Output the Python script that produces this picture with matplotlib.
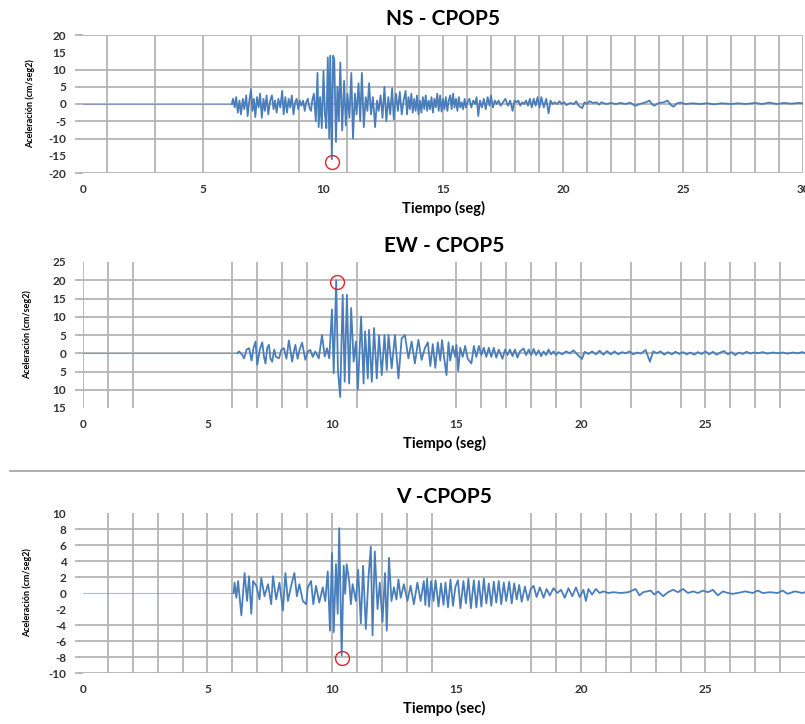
import matplotlib
matplotlib.use("Agg")
import matplotlib.pyplot as plt
from matplotlib.lines import Line2D

plt.rcParams["font.family"] = ["Lato", "DejaVu Sans"]

# ---- NS component (time s, acceleration cm/s2) ----
ns_t = [0, 6.2, 6.25, 6.32, 6.38, 6.45, 6.52, 6.58, 6.66, 6.72, 6.80, 6.86, 6.93, 7.00, 7.06, 7.12,
        7.18, 7.25, 7.32, 7.38, 7.45, 7.52, 7.58, 7.65, 7.72, 7.80, 7.87, 7.94, 8.00, 8.07, 8.14,
        8.22, 8.30, 8.36, 8.43, 8.50, 8.57, 8.63, 8.70, 8.77, 8.84, 8.90, 8.97, 9.03, 9.10, 9.17,
        9.24, 9.30, 9.37, 9.43, 9.50, 9.55, 9.62, 9.70, 9.77, 9.82, 9.88, 9.95, 10.02, 10.08,
        10.14, 10.20, 10.26, 10.30, 10.37, 10.42, 10.47, 10.54, 10.60, 10.66, 10.72, 10.80, 10.88,
        10.95, 11.02, 11.10, 11.18, 11.25, 11.33, 11.40, 11.48, 11.55, 11.62, 11.70, 11.78, 11.85,
        11.92, 12.00, 12.08, 12.17, 12.25, 12.32, 12.40, 12.48, 12.56, 12.64, 12.72, 12.80, 12.88,
        12.95, 13.04, 13.12, 13.20, 13.28, 13.36, 13.44, 13.50, 13.56, 13.62, 13.68, 13.74, 13.80,
        13.86, 13.92, 13.98, 14.04, 14.10, 14.16, 14.22, 14.28, 14.34, 14.40, 14.46, 14.52, 14.58,
        14.64, 14.70, 14.76, 14.82, 14.88, 14.94, 15.00, 15.06, 15.12, 15.18, 15.24, 15.30, 15.36,
        15.42, 15.48, 15.54, 15.60, 15.66, 15.72, 15.78, 15.84, 15.90, 15.96, 16.02, 16.10, 16.18,
        16.26, 16.34, 16.40, 16.47, 16.54, 16.62, 16.70, 16.78, 16.86, 16.94, 17.00, 17.08, 17.16,
        17.24, 17.32, 17.40, 17.50, 17.60, 17.70, 17.80, 17.90, 17.98, 18.06, 18.14, 18.22, 18.30,
        18.38, 18.46, 18.54, 18.62, 18.70, 18.78, 18.86, 18.94, 19.02, 19.10, 19.20, 19.30, 19.40,
        19.48, 19.56, 19.65, 19.75, 19.85, 19.95, 20.05, 20.15, 20.30, 20.45, 20.55, 20.65, 20.80,
        20.90, 21.00, 21.10, 21.25, 21.40, 21.50, 21.60, 21.80, 22.00, 22.20, 22.40, 22.60, 22.80,
        23.00, 23.20, 23.45, 23.60, 23.70, 23.80, 24.00, 24.20, 24.35, 24.50, 24.60, 24.75, 24.90,
        25.10, 25.40, 25.70, 26.00, 26.30, 26.60, 27.00, 27.30, 27.60, 28.00, 28.30, 28.60, 28.90,
        29.20, 29.50, 29.80, 30.00]
ns_a = [0, 0, 1.5, -1, 2, -2.5, 1, -3, 1.5, -1.5, 2.5, -3.5, 1, 4.3, -2, 1.5,
        -3.8, 2, -1, 3, -4, 1.5, -2, 2.5, -3, 1, 2.5, -1.5, 1, -2.5, 1.5,
        -1, 3.8, -3, 2, -2.5, 1.5, -1, 2.5, -3, 0.5, 1.5, -1.5, 1, -0.5, 1,
        -2, 0.5, 1.5, -1, -2, 1, 3, -5, 9, -6.7, 2, -7, 9.6, -3,
        -7, 13.5, -10, 14, -16, 14, 13, -11, 5, -5, 12, -7.7, 6.7,
        -6.2, 3, -4, 9, -10, 3, -3, 6, -5, 9, -6.7, 2, -2,
        6, -3, 2, -6.7, 1, -2, 2.5, -4, 5, -5, 2, -3, 4.5,
        -4.5, 3, -2, 3.5, -3, 1, 3.8, -3, 2, -1.5, 3, -2.5, 1.5,
        -2, 2.5, -3, 1, -2.5, 2, -1.5, 2.5, -2, 1, -1.5, 2, -2.5,
        1.5, -1, 3, -2, 2.5, -2.2, 1.5, -1.5, 2, -2, 1, 2.5, -1.5,
        3, -1, 1.5, -2, 2, -1, 0.5, -1.5, 1.5, -1, 0.5, 1.5, -1,
        1, 0, 2, -3.5, 1, -1, 1.5, -1.5, 2, -0.5, 2.5, -1, 1,
        0, 1, -0.5, 0.5, 1.5, -0.5, 1, -2, 1, 0.5, 1, -0.5, 0.5,
        0, 1, -0.5, 1.5, -1, 1.5, -0.5, 2, -1, 2, -1, 1.5, -2.7,
        1, 0, 0.5, 0, 0.8, 0, 0.5, -0.3, 0.3, 0, 0.8, -0.5, -1.2,
        0.5, 0, 0.8, 0.3, 0.5, -0.2, 0.5, 0, 0.3, 0, 0.3, 0, 0.4,
        -0.5, 0, 0.5, 1, 0, -0.5, 0.3, 0.5, 1, -0.3, -0.8, 0.2, 0.4,
        0, 0.2, 0, 0.2, -0.1, 0.2, 0, 0.2, 0, 0.3, 0, 0.4, 0,
        0.3, 0.1, 0.3, 0.2]

# ---- EW component ----
ew_t = [0, 6.2, 6.27, 6.4, 6.47, 6.57, 6.67, 6.77, 6.85, 6.93, 7.0, 7.1, 7.2, 7.27, 7.33, 7.4,
        7.47, 7.53, 7.6, 7.68, 7.75, 7.87, 7.97, 8.07, 8.17, 8.27, 8.4, 8.47, 8.53, 8.62, 8.7,
        8.8, 8.93, 9.03, 9.13, 9.23, 9.33, 9.47, 9.6, 9.71, 9.8, 9.89, 10.0, 10.07, 10.17, 10.24,
        10.33, 10.43, 10.51, 10.6, 10.69, 10.77, 10.87, 10.96, 11.04, 11.17, 11.27, 11.33, 11.44,
        11.49, 11.6, 11.69, 11.8, 11.89, 12.0, 12.11, 12.2, 12.27, 12.4, 12.53, 12.67, 12.8,
        12.93, 13.07, 13.2, 13.33, 13.47, 13.6, 13.73, 13.85, 13.95, 14.05, 14.15, 14.25, 14.35,
        14.42, 14.5, 14.6, 14.68, 14.75, 14.85, 14.95, 15.0, 15.07, 15.15, 15.25, 15.35, 15.45,
        15.6, 15.7, 15.8, 15.9, 16.0, 16.1, 16.2, 16.3, 16.4, 16.5, 16.6, 16.7, 16.85, 16.95,
        17.05, 17.15, 17.25, 17.35, 17.45, 17.55, 17.7, 17.8, 17.9, 18.0, 18.1, 18.2, 18.3, 18.4,
        18.5, 18.6, 18.7, 18.8, 18.9, 19.0, 19.1, 19.25, 19.4, 19.55, 19.7, 19.85, 20.04, 20.15,
        20.3, 20.45, 20.6, 20.75, 20.9, 21.05, 21.2, 21.35, 21.5, 21.65, 21.8, 21.95, 22.1, 22.25,
        22.4, 22.6, 22.77, 22.9, 23.05, 23.2, 23.35, 23.5, 23.65, 23.8, 23.95, 24.1, 24.25, 24.4,
        24.55, 24.7, 24.85, 25.0, 25.15, 25.3, 25.45, 25.6, 25.75, 25.9, 26.05, 26.2, 26.35, 26.5,
        26.65, 26.8, 26.95, 27.1, 27.3, 27.5, 27.7, 27.9, 28.1, 28.3, 28.5, 28.7, 28.9, 29.0]
ew_a = [0, 0, 0.5, -0.5, -1.4, 1, 1.4, -2, 1.5, 3.2, -3.2, 1, 3, -1, -2.8, 1.5,
        2.3, -1.5, -2.3, 1, -1, -1.4, 1, 1.4, -1.5, 3.5, -2.3, 0.5, 2.3, -1.5, 1,
        2.9, -1.8, 0.5, 0.9, -1, 0.5, -1.4, 5, -0.9, 1.4, -1.4, 12, -5.5, 20, -4.6,
        -12, 16, -7.8, 16, -8.3, 12.4, -2.3, 3.2, -10, 10, -8.3, 6, -6.9,
        6.4, -7.8, 6.9, -6.9, 5, -6, 5, -4.6, 5, -4.1, 5, -6.9, 4.1,
        5, -1.4, 3.2, -2.8, 3.7, -1.8, 1.4, 3, -3.5, 2.5, -4, 3, -2,
        3.6, -1, -6, 3, -2, 2, -1, 2.3, -4.8, 1.5, -1, 2, -1.5,
        -2.8, 2, -1, 2, -0.5, 1.5, -1, 1.5, -1, 1.5, -1.2, 1, -1.5, 1,
        -0.5, 1, -0.8, 1, -1.2, 0.5, 1.3, -0.5, 1, -0.5, 1.2, -0.5, 0.8, -0.8,
        0.5, -0.5, 1, -0.3, 0.5, -0.5, 0.3, -0.3, 0.5, 0, 0.8, -0.3, -1.6, 0.4,
        -0.2, 0.5, -0.3, 0.7, -0.4, 0.6, -0.3, 0.5, -0.3, 0.3, 0, 0.5, -0.3, 0.2,
        -0.1, 0.9, -2.3, 0.5, 0, 0.5, -0.4, 0.3, -0.3, 0.4, -0.2, 0.3, -0.3, 0.2,
        -0.4, 0.3, -0.2, 0.5, -0.3, 0.4, -0.4, 0.2, 0.6, -0.3, 0.3, -0.5, 0.2, -0.2,
        0.4, -0.1, 0.2, 0, 0.3, -0.1, 0.2, 0, 0.2, -0.1, 0.2, 0, 0.3, 0]

# ---- V component ----
v_t = [0, 6.05, 6.09, 6.16, 6.23, 6.36, 6.49, 6.59, 6.67, 6.76, 6.83, 6.96, 7.09, 7.16, 7.29, 7.43,
       7.56, 7.63, 7.76, 7.89, 8.03, 8.13, 8.23, 8.36, 8.49, 8.59, 8.69, 8.83, 8.96, 9.03, 9.16,
       9.25, 9.36, 9.49, 9.63, 9.73, 9.83, 9.92, 10.0, 10.07, 10.16, 10.23, 10.29, 10.39, 10.47,
       10.53, 10.59, 10.69, 10.76, 10.83, 10.96, 11.05, 11.16, 11.25, 11.36, 11.47, 11.56, 11.63,
       11.72, 11.83, 11.92, 12.03, 12.13, 12.2, 12.29, 12.39, 12.49, 12.59, 12.67, 12.76, 12.89,
       13.03, 13.16, 13.29, 13.43, 13.56, 13.69, 13.75, 13.82, 13.9, 13.98, 14.08, 14.16, 14.28,
       14.38, 14.48, 14.56, 14.66, 14.76, 14.86, 14.96, 15.06, 15.16, 15.28, 15.38, 15.48, 15.58,
       15.7, 15.8, 15.9, 16.0, 16.1, 16.2, 16.3, 16.4, 16.5, 16.6, 16.7, 16.8, 16.9, 17.0, 17.12,
       17.22, 17.32, 17.42, 17.52, 17.62, 17.75, 17.87, 17.98, 18.1, 18.22, 18.35, 18.5, 18.62,
       18.75, 18.9, 19.05, 19.2, 19.35, 19.5, 19.65, 19.8, 19.95, 20.1, 20.2, 20.3, 20.45, 20.6,
       20.75, 20.9, 21.1, 21.3, 21.6, 21.9, 22.2, 22.35, 22.5, 22.8, 22.95, 23.1, 23.3, 23.5,
       23.7, 23.9, 24.1, 24.3, 24.5, 24.7, 24.9, 25.1, 25.3, 25.5, 25.7, 25.9, 26.1, 26.3, 26.6,
       26.9, 27.1, 27.3, 27.6, 27.9, 28.1, 28.3, 28.6, 28.9, 29.0]
v_a = [0, 0, 1.3, -0.6, 1.5, -2.8, 2.5, -1.0, 2.1, -2.6, 1.5, 0.9, -0.8, 1.9, -0.4, 1.1,
       -1.4, 2.1, -0.8, 1.3, -2.2, 2.5, -1.0, 0.9, 2.5, -0.4, 1.1, -1.0, -1.4, 0.7, 1.5,
       -1.4, 0.9, -1.2, 0.7, -1.0, 2.7, -4.7, 5.0, -4.9, 3.6, -2.6, 8.1, -7.8, 3.4,
       -0.1, 3.6, 1.5, -1.4, 1.1, -1.0, 2.9, -3.8, 3.4, -4.5, 2.1, 5.8, -5.3,
       5.2, -2.0, 1.3, -3.6, 2.5, -4.7, 4.4, -1.0, 0.7, -0.8, 1.7, -0.6, 1.1,
       -1.0, 0.9, -1.4, 1.3, -1.0, 1.5, -1.5, 1.8, -1.7, 1.5, -1.0, 1.6, -1.7,
       1.2, -1.5, 1.3, -1.8, 1.7, -1.6, 0.8, 1.6, -1.9, 1.5, -1.3, 1.8, -1.9,
       1.6, -1.8, 1.5, -1.7, 1.8, -1.3, 1.2, -1.6, 1.4, -1.2, 1.5, -1.4, 1.3, -1.0, 1.4,
       -1.3, 1.2, -0.8, 1.0, -1.1, 0.8, -0.9, 0.5, 0.9, -0.5, 0.7, -0.6, 0.5,
       -0.3, 0.6, 0, 0.4, -0.6, 0.6, -0.4, 0.7, -0.5, 0.4, -1.0, 0.5, -0.2, 0.5,
       0, 0.2, 0, 0.1, 0, 0.1, 0.5, -0.3, 0.1, 0.3, -0.2, 0.2, -0.4, 0.1,
       0.4, 0.1, 0.5, 0, 0.2, 0, 0.3, 0.1, 0.4, -0.3, 0.2, 0, -0.1, 0, 0.2,
       0, 0.3, 0, 0.1, 0, 0.3, -0.1, 0.2, 0, 0.1]

# peak markers (red circles)
ns_peak = (10.38, -16.8)
ew_peak = (10.19, 19.5)
v_peak = (10.39, -8.1)

panels = [
    dict(title="NS - CPOP5", t=ns_t, a=ns_a, peak=ns_peak, xlim=30, ylim=(-20, 20), ystep=5,
         xlabel="Tiempo (seg)", ylabels=["-20", "-15", "-10", "-5", "0", "5", "10", "15", "20"],
         gridx=[1, 3, 5, 7, 9, 11, 13] + list(range(14, 31)),
         gridy=[-20, -10, -5, 0, 5, 10, 20],
         rect=[83 / 805, 1 - 173 / 724, 720 / 805, 138 / 724], ylab_x=30),
    dict(title="EW - CPOP5", t=ew_t, a=ew_a, peak=ew_peak, xlim=29, ylim=(-15, 25), ystep=5,
         xlabel="Tiempo (seg)", ylabels=["15", "10", "5", "0", "5", "10", "15", "20", "25"],
         gridx=[0, 1, 2, 6, 7, 8, 9, 11, 15, 16, 17, 18, 19, 20, 22, 24, 25, 26, 27, 28],
         gridy=[-10, -5, 0, 5, 10, 15, 20],
         rect=[83 / 805, 1 - 408 / 724, 722 / 805, 146 / 724], ylab_x=27),
    dict(title="V -CPOP5", t=v_t, a=v_a, peak=v_peak, xlim=29, ylim=(-10, 10), ystep=2,
         xlabel="Tiempo (sec)", ylabels=["-10", "-8", "-6", "-4", "-2", "0", "2", "4", "6", "8", "10"],
         gridx=list(range(1, 15)) + list(range(18, 29)),
         gridy=[-10, -8, -6, -4, 2, 4, 6, 8],
         rect=[83 / 805, 1 - 673 / 724, 722 / 805, 160 / 724], ylab_x=27),
]

fig = plt.figure(figsize=(8.05, 7.24), dpi=100)
blue = "#4a7ebb"
grid_c = "#b4b4b4"

for p in panels:
    ax = fig.add_axes(p["rect"])
    ax.xaxis.remove_overlapping_locs = False
    ax.yaxis.remove_overlapping_locs = False
    t, a = p["t"], p["a"]
    ax.plot(t[:2], a[:2], color=blue, lw=0.8, alpha=0.5)
    ax.plot(t[1:], a[1:], color=blue, lw=1.3)
    ax.plot(*p["peak"], "o", mfc="none", mec="#e8202a", ms=10, mew=1.0)

    ax.set_xlim(0, p["xlim"])
    ax.set_ylim(*p["ylim"])
    ax.set_xticks(range(0, p["xlim"] + 1, 5))
    ax.set_xticks(p["gridx"], minor=True)
    lo, hi = p["ylim"]
    ax.set_yticks(range(lo, hi + 1, p["ystep"]))
    ax.set_yticklabels(p["ylabels"])
    ax.set_yticks(p["gridy"], minor=True)
    ax.grid(which="minor", color=grid_c, lw=1.3)
    ax.set_axisbelow(True)
    for s in ax.spines.values():
        s.set_visible(False)
    ax.tick_params(which="major", length=0, labelsize=8.5, labelcolor="#333333")
    ax.tick_params(axis="x", which="major", pad=8)
    ax.tick_params(axis="y", which="major", pad=12)
    ax.tick_params(axis="y", which="minor", length=6, color=grid_c, width=1.3)
    ax.tick_params(axis="x", which="minor", length=0)
    for lab in ax.get_xticklabels() + ax.get_yticklabels():
        lab.set_fontweight("bold")

    ax.set_title(p["title"], fontsize=15, fontweight="bold", pad=7)
    ax.set_xlabel(p["xlabel"], fontsize=10.5, fontweight="bold", labelpad=4)
    fig.text(p["ylab_x"] / 805, p["rect"][1] + p["rect"][3] / 2, "Aceleración (cm/seg2)",
             rotation=90, ha="center", va="center", fontsize=6.5, fontweight="bold")

# separator line above the vertical component
fig.add_artist(Line2D([10 / 805, 1], [1 - 471 / 724] * 2, color="#a0a0a0", lw=1.2))

fig.savefig("out.png", dpi=100)
